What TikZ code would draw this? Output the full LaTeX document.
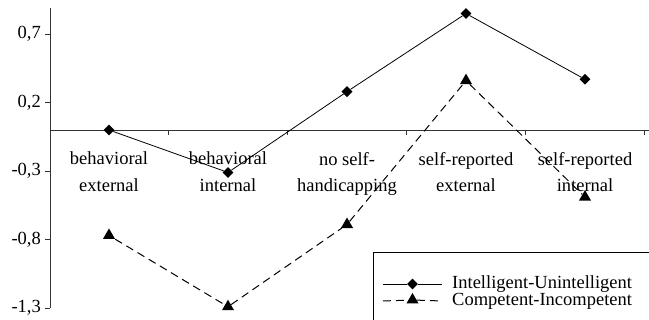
\documentclass[tikz,border=0pt]{standalone}
\usepackage{fontspec}
\setmainfont{Liberation Serif}
\usetikzlibrary{shapes.geometric}

\tikzset{
  chartfont/.style={font=\fontsize{18.5}{23}\selectfont},
  axisline/.style={draw=black!80, line width=0.8pt},
  dmark/.style={diamond, fill=black, inner sep=0pt, minimum width=11pt, minimum height=11pt},
  tmark/.style={regular polygon, regular polygon sides=3, fill=black, inner sep=0pt, minimum size=14pt},
  intline/.style={line width=0.8pt},
  compline/.style={line width=1pt, dash pattern=on 8pt off 5pt},
  catlabel/.style={chartfont, align=center, anchor=north, inner sep=0pt},
  ticklabel/.style={chartfont, anchor=east, inner sep=0pt}
}

\begin{document}
\begin{tikzpicture}[x=1pt, y=1pt]
\useasboundingbox (0,0) rectangle (649,320);

\begin{scope}[shift={(0,190)}, y=137pt]
% axes
\draw[axisline] (50,-1.3) -- (50,0.89);
\draw[axisline] (50,0) -- (649,0);
\foreach \v/\t in {0.7/{0,7}, 0.2/{0,2}, -0.3/{-0,3}, -0.8/{-0,8}, -1.3/{-1,3}} {
  \draw[axisline] (45,\v) -- (50,\v);
  \node[ticklabel] (y\v) at (41,\v) {\t};
}
\foreach \k in {1,...,5}
  \draw[axisline] ({49+119*\k},0) -- ({49+119*\k},-0.035);

% categories
\foreach \t [count=\k] in {behavioral\\[3.5pt]external, behavioral\\[3.5pt]internal,
                           no self-\\[3.5pt]handicapping, self-reported\\[3.5pt]external,
                           self-reported\\[3.5pt]internal}
  \node[catlabel] (cat\k) at ({-10+119*\k},-0.16) {\t};

% Intelligent-Unintelligent
\foreach \v [count=\k] in {0,-0.31,0.28,0.85,0.37}
  \node[dmark] (i\k) at ({-10+119*\k},\v) {};
\draw[intline] (i1) -- (i2) -- (i3) -- (i4) -- (i5);

% Competent-Incompetent
\foreach \v [count=\k] in {-0.77,-1.29,-0.69,0.36,-0.49}
  \node[tmark] (c\k) at ({-10+119*\k},\v) {};
\draw[compline] (c1) -- (c2) -- (c3) -- (c4) -- (c5);
\end{scope}

% legend
\draw[line width=0.8pt] (373,68) rectangle (655,-5);
\coordinate (la) at (383,36);
\coordinate (lb) at (442,36);
\node[dmark] (lm1) at (412.5,36) {};
\draw[intline] (la) -- (lm1) -- (lb);
\node[chartfont, anchor=west, inner sep=0pt] (lt1) at (452,36) {Intelligent-Unintelligent};
\coordinate (lc) at (383,19);
\coordinate (ld) at (442,19);
\node[tmark] (lm2) at (412.5,20) {};
\draw[compline] (lc) -- (lm2) -- (ld);
\node[chartfont, anchor=west, inner sep=0pt] (lt2) at (452,19) {Competent-Incompetent};
\end{tikzpicture}
\end{document}
